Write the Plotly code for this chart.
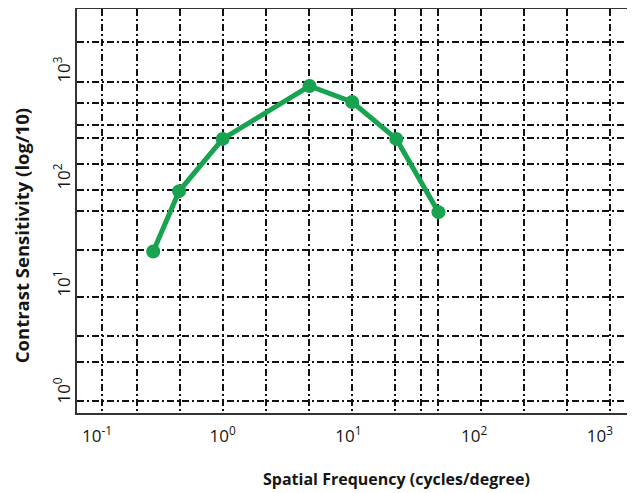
import plotly.graph_objects as go

# ── Data ────────────────────────────────────────────────────────────────────
freq = [0.28, 0.45, 1.0, 4.9, 10.7, 24.0, 52.0]          # cycles/degree
sensitivity = [21, 77, 237, 740, 525, 237, 49]             # contrast sensitivity

x_decades = [-1, 0, 1, 2, 3]
y_decades = [0, 1, 2, 3]
x_ticktext = ["10<sup>-1</sup>", "10<sup>0</sup>", "10<sup>1</sup>", "10<sup>2</sup>", "10<sup>3</sup>"]
y_ticktext = ["10<sup>0</sup>", "10<sup>1</sup>", "10<sup>2</sup>", "10<sup>3</sup>"]

# gridline positions (log10 units) as drawn in the reference
x_grid_log = [-0.96, -0.682, -0.34, 0.002, 0.344, 0.686, 1.028, 1.37, 1.577,
              1.712, 2.054, 2.396, 2.738, 3.08]
y_grid_log = [3.28, 2.907, 2.71, 2.505, 2.383, 2.14, 1.897, 1.70, 1.336,
              0.897, 0.533, 0.29, -0.075]

X_RANGE = [-1.159, 3.279]
Y_RANGE = [-0.187, 3.589]

GREEN = "#17a34f"
INK = "#161616"
FONT = "Open Sans, Noto Sans, sans-serif"

fig = go.Figure()

# the curve, on the gridded main axes
fig.add_trace(go.Scatter(
    x=freq, y=sensitivity,
    mode="lines+markers",
    line=dict(color=GREEN, width=5),
    marker=dict(color=GREEN, size=14),
    showlegend=False,
    hoverinfo="x+y",
))
# empty trace so the labelled overlay axes get drawn
fig.add_trace(go.Scatter(
    x=[], y=[], mode="markers", showlegend=False, hoverinfo="skip",
    xaxis="x2", yaxis="y2",
))

grid = dict(
    type="log",
    showgrid=True,
    gridcolor="#111111",
    gridwidth=1.6,
    griddash="7px,3px,2px,3px",
    showticklabels=False,
    ticks="",
    zeroline=False,
    showline=True,
    linecolor="#333333",
    linewidth=2,
)

labels = dict(
    type="log",
    showgrid=False,
    showline=False,
    zeroline=False,
    ticks="",
    tickfont=dict(family=FONT, size=17, color=INK),
)

# page body adds ~8px offset; shrink the figure so the plot lands where the reference has it
fig.update_layout(
    width=627, height=485, autosize=False,
    paper_bgcolor="white", plot_bgcolor="white",
    margin=dict(l=69, r=0, t=1, b=80),
    xaxis=dict(**grid, range=X_RANGE, tickvals=[10 ** v for v in x_grid_log],
               mirror=True),
    yaxis=dict(**grid, range=Y_RANGE, tickvals=[10 ** v for v in y_grid_log]),
    xaxis2=dict(**labels, overlaying="x", anchor="y2", side="bottom",
                range=X_RANGE, tickvals=[10.0 ** d for d in x_decades],
                ticktext=x_ticktext, ticklabelstandoff=11),
    yaxis2=dict(**labels, overlaying="y", anchor="x2", side="left",
                range=Y_RANGE, tickvals=[10.0 ** d for d in y_decades],
                ticktext=y_ticktext, tickangle=-90, ticklabelstandoff=3),
    annotations=[
        dict(text="<b>Spatial Frequency (cycles/degree)</b>",
             xref="paper", yref="paper", x=0.572, y=-0.163,
             xanchor="center", yanchor="middle", showarrow=False,
             font=dict(family=FONT, size=16, color=INK)),
        dict(text="<b>Contrast Sensitivity (log/10)</b>",
             xref="paper", yref="paper", x=-0.100, y=0.438,
             xanchor="center", yanchor="middle", showarrow=False,
             textangle=-90,
             font=dict(family=FONT, size=18.5, color=INK)),
    ],
)

fig.write_html("out.html")
